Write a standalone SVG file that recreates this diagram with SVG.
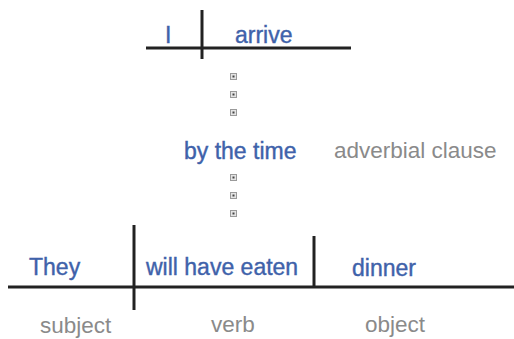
<svg xmlns="http://www.w3.org/2000/svg" width="514" height="339" viewBox="0 0 514 339">
<style>
.w{font-family:"Liberation Sans",Arial,sans-serif;font-size:23px;fill:#3f62aa;stroke:#3f62aa;stroke-width:0.4}
.g{font-family:"Liberation Sans",Arial,sans-serif;font-size:22.5px;fill:#8a8a8a}
.ln{stroke:#222;stroke-width:3;fill:none}
.dot{fill:#e4e4e4;stroke:#9a9a9a;stroke-width:1}
.dc{fill:#444}
</style>
<rect width="514" height="339" fill="#fff"/>
<g id="connectors">
<line class="ln" x1="146" y1="48" x2="351" y2="48"/>
<line class="ln" x1="202" y1="10" x2="202" y2="59"/>
<line class="ln" x1="8" y1="287" x2="514" y2="287"/>
<line class="ln" x1="134" y1="225" x2="134" y2="310"/>
<line class="ln" x1="314" y1="236" x2="314" y2="287"/>
<g id="dots">
<rect class="dot" x="230.5" y="73.5" width="6" height="6"/><rect class="dc" x="232.5" y="75.5" width="2" height="2"/>
<rect class="dot" x="230.5" y="91.5" width="6" height="6"/><rect class="dc" x="232.5" y="93.5" width="2" height="2"/>
<rect class="dot" x="230.5" y="109.5" width="6" height="6"/><rect class="dc" x="232.5" y="111.5" width="2" height="2"/>
<rect class="dot" x="230.5" y="174.5" width="6" height="6"/><rect class="dc" x="232.5" y="176.5" width="2" height="2"/>
<rect class="dot" x="230.5" y="192.5" width="6" height="6"/><rect class="dc" x="232.5" y="194.5" width="2" height="2"/>
<rect class="dot" x="230.5" y="210.5" width="6" height="6"/><rect class="dc" x="232.5" y="212.5" width="2" height="2"/>
</g>
</g>
<g id="n-I"><text class="w" x="165" y="43">I</text></g>
<g id="n-arrive"><text class="w" x="235" y="43">arrive</text></g>
<g id="n-bythetime"><text class="w" x="184" y="159">by the time</text></g>
<g id="n-adverbial"><text class="g" x="334" y="158">adverbial clause</text></g>
<g id="n-They"><text class="w" x="29" y="275">They</text></g>
<g id="n-verb"><text class="w" x="146" y="275">will have eaten</text></g>
<g id="n-dinner"><text class="w" x="352" y="276">dinner</text></g>
<g id="n-subject"><text class="g" x="40" y="333">subject</text></g>
<g id="n-verblabel"><text class="g" x="211" y="332">verb</text></g>
<g id="n-object"><text class="g" x="365" y="332">object</text></g>
</svg>
